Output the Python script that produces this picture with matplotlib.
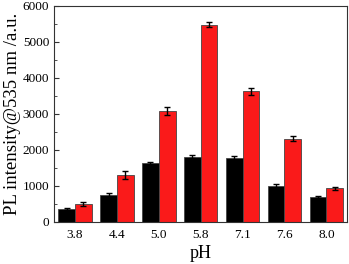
import numpy as np
import matplotlib.pyplot as plt
from matplotlib.ticker import MultipleLocator

plt.rcParams['font.family'] = ['Liberation Serif', 'DejaVu Serif']

ph_labels = ["3.8", "4.4", "5.0", "5.8", "7.1", "7.6", "8.0"]
black_vals = [360, 750, 1620, 1810, 1760, 1000, 690]
black_err = [30, 50, 40, 50, 60, 50, 25]
red_vals = [500, 1310, 3080, 5470, 3630, 2310, 935]
red_err = [50, 110, 120, 70, 100, 80, 40]

fig, ax = plt.subplots(figsize=(3.49, 2.64), dpi=100)
x = np.arange(1, len(ph_labels) + 1)
w = 0.4
ax.bar(x - w/2, black_vals, w, yerr=black_err, color='black', edgecolor='#444444',
       linewidth=0.6, error_kw=dict(ecolor='black', elinewidth=1, capsize=2.5, capthick=1))
ax.bar(x + w/2, red_vals, w, yerr=red_err, color='#fa1a1a', edgecolor='#444444',
       linewidth=0.6, error_kw=dict(ecolor='black', elinewidth=1, capsize=2.5, capthick=1))

ax.set_xlim(0.5, 7.5)
ax.set_ylim(0, 6000)
ax.set_xticks(x)
ax.set_xticklabels(ph_labels)
for s in ax.spines.values():
    s.set_color('#333333')
ax.yaxis.set_major_locator(MultipleLocator(1000))
ax.yaxis.set_minor_locator(MultipleLocator(500))
ax.tick_params(axis='y', which='both', direction='in', labelsize=9.5, color='#333333')
ax.tick_params(axis='x', length=0, labelsize=9.5, pad=5)
ax.set_xlabel("pH", fontsize=13, labelpad=3)
ax.set_ylabel("PL intensity@535 nm /a.u.", fontsize=13.5, labelpad=1)

fig.subplots_adjust(left=0.155, right=0.995, top=0.978, bottom=0.16)
fig.savefig("out.png", dpi=100)
